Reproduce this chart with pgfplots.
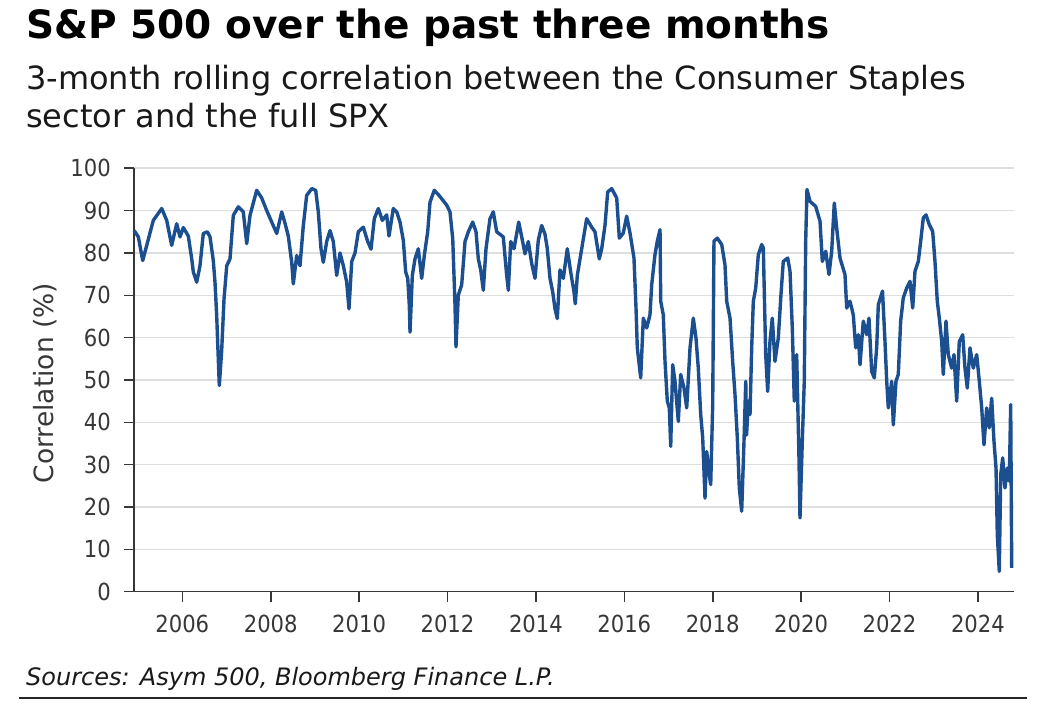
\documentclass[border=0pt]{standalone}
\usepackage{fontspec}
\setmainfont{DejaVu Sans}
\IfFontExistsTF{DejaVu Sans Condensed}{\newfontfamily\tickfont{DejaVu Sans Condensed}}{\newfontfamily\tickfont[FakeStretch=0.88]{DejaVu Sans}}
\usepackage{pgfplots}
\pgfplotsset{compat=1.18}
\definecolor{lineblue}{RGB}{28,79,143}
\definecolor{axgray}{RGB}{55,55,55}
\definecolor{gridgray}{RGB}{222,222,222}
\pgfplotstableread{
x y
2004.91 85.3
2005.005 83.8
2005.104 78.2
2005.195 81.8
2005.344 87.7
2005.534 90.5
2005.647 87.7
2005.760 81.8
2005.873 86.9
2005.948 83.8
2006.023 86
2006.136 84
2006.213 78.6
2006.249 75.5
2006.326 73.1
2006.400 77
2006.475 84.6
2006.566 85
2006.627 83.8
2006.701 78.2
2006.740 73
2006.778 65.2
2006.814 55
2006.837 48.7
2006.891 57
2006.943 69
2007.005 77
2007.079 78.6
2007.154 88.9
2007.267 90.9
2007.380 89.7
2007.457 82.2
2007.532 88.9
2007.683 94.8
2007.796 93
2007.910 90
2008.023 87.3
2008.136 84.6
2008.249 89.7
2008.324 87
2008.398 84
2008.475 77.8
2008.511 72.7
2008.588 79.4
2008.663 77
2008.738 86.5
2008.814 93.6
2008.928 95.2
2009.018 94.8
2009.077 89.7
2009.138 81
2009.190 77.8
2009.267 82.7
2009.342 85.3
2009.416 82.7
2009.493 74.7
2009.568 80
2009.643 77
2009.719 73.1
2009.771 66.8
2009.833 78
2009.907 80
2009.982 85
2010.095 86.1
2010.195 82.7
2010.269 80.9
2010.344 88.1
2010.434 90.5
2010.525 87.7
2010.624 89
2010.676 84
2010.774 90.5
2010.851 89.7
2010.925 87.3
2011.000 83
2011.054 75.5
2011.100 74
2011.136 67.6
2011.152 61.3
2011.204 74.7
2011.265 78.6
2011.339 81
2011.416 74
2011.475 79.4
2011.552 85
2011.604 92
2011.701 94.8
2011.808 93.6
2011.982 91.3
2012.056 89.7
2012.118 83.4
2012.147 74.7
2012.170 67.6
2012.192 57.8
2012.244 70
2012.321 72.5
2012.396 82.7
2012.471 85
2012.570 87.3
2012.645 85
2012.697 78.6
2012.751 76
2012.810 71.2
2012.871 81
2012.961 88.1
2013.036 89.7
2013.113 85
2013.188 84.4
2013.262 83.8
2013.339 74.7
2013.376 71.2
2013.430 82.7
2013.505 81
2013.611 87.3
2013.679 83.8
2013.753 79.8
2013.828 82.7
2013.905 77.5
2013.980 74
2014.054 83
2014.131 86.5
2014.206 84.4
2014.258 81
2014.319 74
2014.380 70.8
2014.432 66.8
2014.484 64.5
2014.545 76
2014.620 74
2014.710 81
2014.787 75.5
2014.862 70.8
2014.891 68
2014.937 74.7
2015.036 81
2015.149 88.1
2015.262 86.1
2015.337 85
2015.434 78.6
2015.489 81
2015.563 86.5
2015.624 94.4
2015.715 95.2
2015.828 93
2015.887 83.5
2015.977 84.7
2016.054 88.7
2016.129 84.7
2016.219 78.8
2016.265 67
2016.294 57.6
2016.371 50.5
2016.430 64.6
2016.507 62.3
2016.581 65.4
2016.620 72.5
2016.694 79.6
2016.747 82.8
2016.808 85.5
2016.824 68.6
2016.882 65.4
2016.921 54.4
2016.973 45
2017.018 43.4
2017.050 34.3
2017.095 53.6
2017.147 49.7
2017.222 40.2
2017.276 51.3
2017.351 48.1
2017.412 43.4
2017.487 57.6
2017.561 64.6
2017.622 59.9
2017.674 52.8
2017.729 41.8
2017.774 36.3
2017.826 22.1
2017.864 33.1
2017.923 27.6
2017.955 25.3
2018.000 44.2
2018.029 82.8
2018.104 83.5
2018.204 82
2018.278 77.2
2018.317 68.6
2018.392 64.6
2018.452 54.4
2018.505 46.5
2018.557 36.3
2018.602 24.5
2018.656 19
2018.708 35.5
2018.748 49.7
2018.767 37
2018.805 45
2018.844 41.8
2018.882 57.6
2018.919 68.6
2018.973 71.7
2019.032 79.6
2019.109 82
2019.145 81.2
2019.199 56
2019.244 47.3
2019.296 59.1
2019.348 64.6
2019.409 54.4
2019.484 59.9
2019.545 70.2
2019.597 78
2019.697 78.8
2019.749 75.7
2019.801 62.3
2019.846 45
2019.900 56
2019.952 31.6
2019.975 17.4
2020.027 35.5
2020.072 49.7
2020.104 82.8
2020.133 95
2020.201 92.2
2020.330 91
2020.428 87.5
2020.480 78
2020.557 80.4
2020.631 74.9
2020.692 80.4
2020.751 91.8
2020.805 85.9
2020.880 78.8
2020.993 74.9
2021.032 67
2021.106 68.6
2021.181 65.4
2021.235 57.6
2021.294 60.7
2021.333 53.6
2021.407 63.9
2021.484 60.7
2021.536 64.6
2021.597 52
2021.656 50.5
2021.710 57.6
2021.747 67.8
2021.842 71
2021.898 59.1
2021.937 49.7
2021.973 43.4
2022.050 49.7
2022.086 39.4
2022.147 49.7
2022.199 51.3
2022.253 63.9
2022.312 69.4
2022.389 71.7
2022.464 73.3
2022.525 67
2022.577 75.7
2022.652 78
2022.706 82.8
2022.765 88.3
2022.826 89
2022.900 86.7
2022.977 85.1
2023.029 78
2023.081 68.6
2023.127 64.6
2023.181 59.1
2023.217 51.3
2023.278 63.9
2023.330 56
2023.407 52.8
2023.459 56
2023.520 45
2023.579 59.1
2023.656 60.7
2023.708 52.8
2023.760 48.1
2023.821 57.6
2023.896 52.8
2023.973 56
2024.032 49.7
2024.086 43.4
2024.138 34.7
2024.199 43.4
2024.258 38.7
2024.312 45.7
2024.364 35.5
2024.410 29.2
2024.439 13.5
2024.484 4.8
2024.516 27.6
2024.561 31.6
2024.613 24.5
2024.665 29.2
2024.710 26.1
2024.742 44.2
2024.765 5.6
}\corrdata
\begin{document}
\begin{tikzpicture}
\useasboundingbox (0,0) rectangle (1050pt,718pt);
\node[anchor=base west, inner sep=0pt, font=\fontsize{39}{39}\selectfont\bfseries] at (26pt,679.7pt) {S\&P 500 over the past three months};
\node[anchor=base west, inner sep=0pt, font=\fontsize{32}{32}\selectfont, text=black!90] at (26pt,628.7pt) {3-month rolling correlation between the Consumer Staples};
\node[anchor=base west, inner sep=0pt, font=\fontsize{32}{32}\selectfont, text=black!90] at (26pt,590pt) {sector and the full SPX};
\begin{axis}[
  at={(134pt,126.3pt)}, anchor=south west,
  scale only axis, width=880pt, height=423.4pt,
  xmin=2004.907, xmax=2024.817, ymin=0, ymax=100,
  axis lines=left,
  axis line style={axgray, line width=1.6pt, -},
  xtick={2006,2008,2010,2012,2014,2016,2018,2020,2022,2024},
  xticklabels={2006,2008,2010,2012,2014,2016,2018,2020,2022,2024},
  ytick={0,10,20,30,40,50,60,70,80,90,100},
  yticklabels={0,10,20,30,40,50,60,70,80,90,100},
  tick align=outside,
  major tick length=10pt,
  tick style={axgray, line width=1.6pt},
  ymajorgrids,
  grid style={gridgray, line width=1.6pt},
  ticklabel style={font=\tickfont\fontsize{23.5}{23.5}\selectfont, text=axgray},
  xticklabel style={inner sep=0pt, yshift=-13pt},
  yticklabel style={inner sep=0pt, xshift=-13pt},
  clip=false,
]
\addplot[lineblue, line width=3.4pt, line join=round] table[x=x, y=y] {\corrdata};
\end{axis}
\node[rotate=90, font=\fontsize{26.5}{26.5}\selectfont, text=axgray] at (45pt,335pt) {Correlation (\%)};
\node[anchor=base west, inner sep=0pt, font=\fontsize{24}{24}\selectfont\itshape, text=black!90] at (26pt,33pt) {Sources: Asym 500, Bloomberg Finance L.P.};
\draw[line width=2pt, black!85] (19pt,20pt) -- (1027pt,20pt);
\end{tikzpicture}
\end{document}
